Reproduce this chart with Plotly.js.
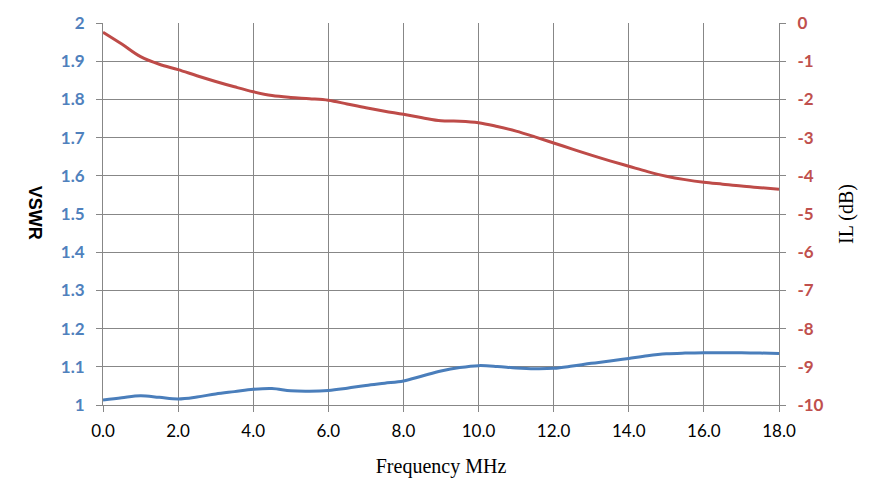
<!DOCTYPE html>
<html>
<head>
<meta charset="utf-8">
<script src="https://cdn.plot.ly/plotly-3.0.1.min.js"></script>
<style>
  html, body { margin: 0; padding: 0; background: #fff; }
  #plot { width: 886px; height: 503px; }
</style>
</head>
<body>
<div id="plot"></div>
<script>
// frequency points (MHz)
var freq = [0, 0.5, 1, 1.5, 2, 2.5, 3, 3.5, 4, 4.5, 5, 5.5, 6, 6.5, 7, 7.5, 8, 8.5, 9, 9.5,
            10, 10.5, 11, 11.5, 12, 12.5, 13, 13.5, 14, 14.5, 15, 15.5, 16, 16.5, 17, 17.5, 18];

// VSWR (left axis)
var vswr = [1.013, 1.019, 1.024, 1.020, 1.016, 1.021, 1.029, 1.035, 1.041, 1.043, 1.037, 1.036, 1.038, 1.044, 1.051, 1.057, 1.063, 1.076, 1.089, 1.098,
            1.103, 1.101, 1.097, 1.095, 1.096, 1.102, 1.109, 1.115, 1.122, 1.129, 1.134, 1.136, 1.137, 1.137, 1.137, 1.136, 1.135];

// insertion loss, dB (right axis)
var il = [-0.24, -0.55, -0.88, -1.08, -1.22, -1.38, -1.53, -1.67, -1.80, -1.90, -1.95, -1.98, -2.02, -2.12, -2.22, -2.31, -2.39, -2.48, -2.56, -2.57,
          -2.61, -2.71, -2.83, -2.98, -3.14, -3.30, -3.46, -3.61, -3.75, -3.89, -4.01, -4.10, -4.17, -4.22, -4.27, -4.31, -4.35];

var xTicks = [0, 2, 4, 6, 8, 10, 12, 14, 16, 18];
var xTickText = ['0.0', '2.0', '4.0', '6.0', '8.0', '10.0', '12.0', '14.0', '16.0', '18.0'];
var vswrTicks = [1, 1.1, 1.2, 1.3, 1.4, 1.5, 1.6, 1.7, 1.8, 1.9, 2];
var vswrTickText = ['1', '1.1', '1.2', '1.3', '1.4', '1.5', '1.6', '1.7', '1.8', '1.9', '2'];
var ilTicks = [-10, -9, -8, -7, -6, -5, -4, -3, -2, -1, 0];
var ilTickText = ['-10', '-9', '-8', '-7', '-6', '-5', '-4', '-3', '-2', '-1', '0'];

var gridCol = '#878787';

var data = [
  {
    x: freq, y: vswr, yaxis: 'y', type: 'scatter', mode: 'lines', name: 'VSWR',
    line: {color: '#4A7EBB', width: 3, shape: 'spline', smoothing: 1}
  },
  {
    x: freq, y: il, yaxis: 'y2', type: 'scatter', mode: 'lines', name: 'IL',
    line: {color: '#BE4B48', width: 3, shape: 'spline', smoothing: 1}
  }
];

var layout = {
  width: 886,
  height: 503,
  showlegend: false,
  paper_bgcolor: '#fff',
  plot_bgcolor: '#fff',
  margin: {l: 103, r: 107, t: 23, b: 98, pad: 0},
  xaxis: {
    range: [0, 18],
    tickvals: xTicks,
    ticktext: xTickText,
    showgrid: true, gridcolor: gridCol, gridwidth: 1,
    zeroline: false,
    showline: true, linecolor: gridCol, linewidth: 1,
    ticks: 'outside', ticklen: 6, tickcolor: gridCol,
    ticklabelstandoff: 5,
    tickfont: {family: 'Lato, sans-serif', size: 17, color: '#000'},
    title: {text: 'Frequency MHz', font: {family: 'Liberation Serif, serif', size: 20, color: '#000'}, standoff: 18}
  },
  yaxis: {
    range: [1, 2],
    tickvals: vswrTicks,
    ticktext: vswrTickText,
    showgrid: true, gridcolor: gridCol, gridwidth: 1,
    zeroline: false,
    showline: true, linecolor: gridCol, linewidth: 1,
    ticks: 'outside', ticklen: 6, tickcolor: gridCol,
    ticklabelstandoff: 8,
    tickfont: {family: 'Lato, sans-serif', size: 17, color: '#4F81BD', weight: 'bold'}
  },
  yaxis2: {
    range: [-10, 0],
    tickvals: ilTicks,
    ticktext: ilTickText,
    overlaying: 'y',
    side: 'right',
    showgrid: false,
    zeroline: false,
    showline: true, linecolor: gridCol, linewidth: 1,
    ticks: 'outside', ticklen: 6, tickcolor: gridCol,
    ticklabelstandoff: 8,
    tickfont: {family: 'Lato, sans-serif', size: 17, color: '#C0504D', weight: 'bold'},
    title: {text: 'IL (dB)', font: {family: 'Liberation Serif, serif', size: 20, color: '#000'}, standoff: 16}
  },
  annotations: [
    {
      text: 'VSWR', xref: 'paper', yref: 'paper', x: -0.1006, y: 0.503,
      xanchor: 'center', yanchor: 'middle', textangle: 90, showarrow: false,
      font: {family: 'Liberation Sans, sans-serif', size: 18, color: '#000', weight: 'bold'}
    }
  ]
};

Plotly.newPlot('plot', data, layout, {displayModeBar: false, staticPlot: true});
</script>
</body>
</html>
